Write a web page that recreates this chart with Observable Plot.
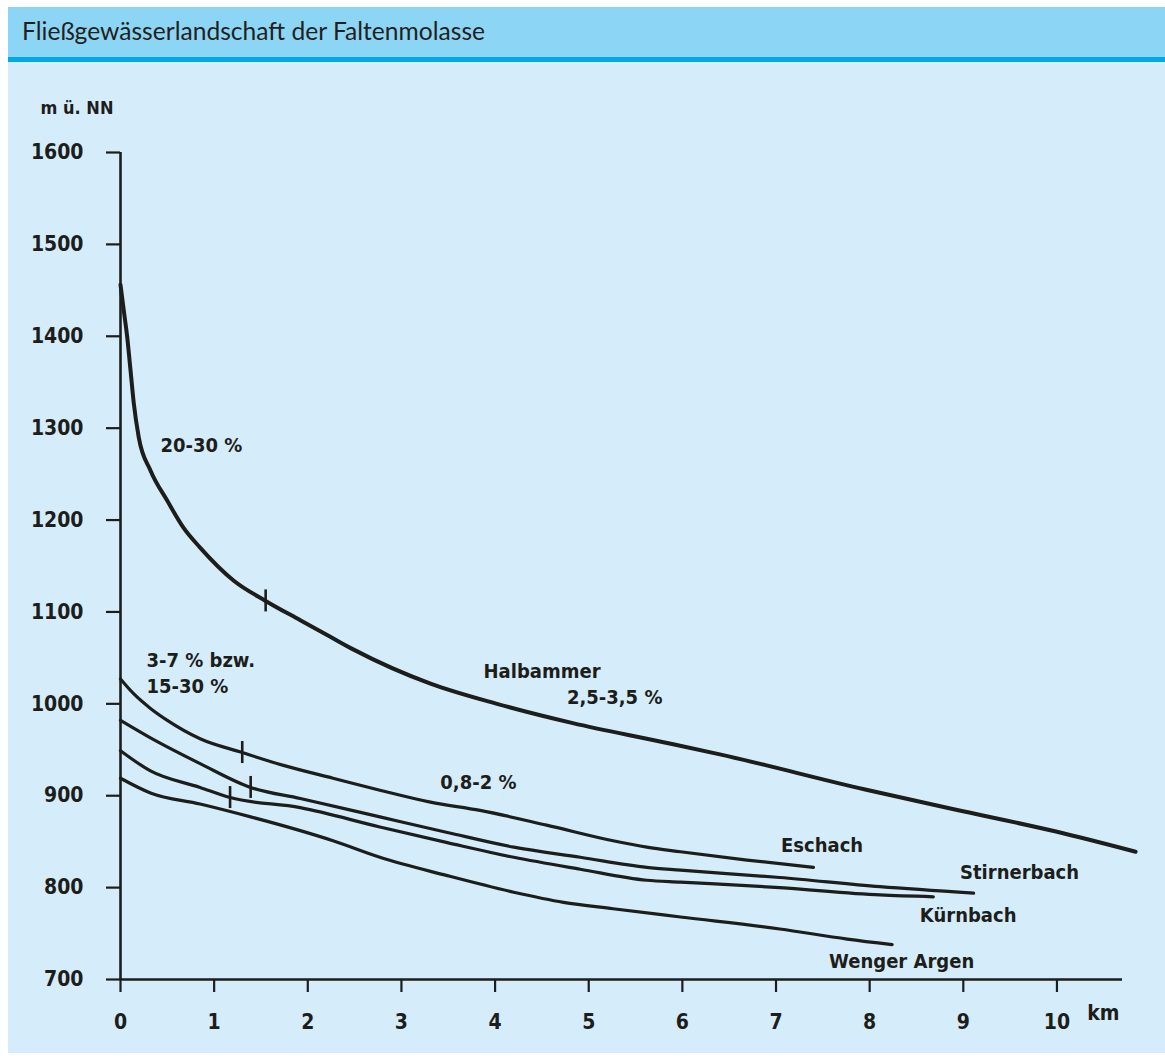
<!DOCTYPE html>
<html>
<head>
<meta charset="utf-8">
<script src="https://cdn.jsdelivr.net/npm/d3@7"></script>
<script src="https://cdn.jsdelivr.net/npm/@observablehq/plot@0.6"></script>
<style>
  html, body { margin: 0; padding: 0; background: #ffffff; }
  body { width: 1165px; height: 1056px; position: relative; overflow: hidden; }
  #header { position: absolute; left: 8px; top: 7px; width: 1157px; height: 50px; background: #8dd5f4; }
  #title { position: absolute; left: 22px; top: 19px; font-family: Lato, "Open Sans", sans-serif; font-size: 24.6px; line-height: 24px; color: #231f20; white-space: nowrap; }
  #stripe { position: absolute; left: 8px; top: 57px; width: 1157px; height: 5px; background: #00a9e6; }
  #panel { position: absolute; left: 8px; top: 62px; width: 1157px; height: 991px; background: #d5edfa; }
  #chart { position: absolute; left: 0; top: 62px; }
</style>
</head>
<body>
<div id="header"></div>
<div id="title">Fließgewässerlandschaft der Faltenmolasse</div>
<div id="stripe"></div>
<div id="panel"></div>
<div id="chart"></div>
<script>
// ---- data (km from source, elevation in m ü. NN) ----
const halbammerKm   = [0, 0.035, 0.072, 0.107, 0.142, 0.195, 0.32, 0.5, 0.67, 0.85, 1.21, 1.55, 1.92, 2.24, 2.49, 3.31, 4.02, 4.83, 5.76, 6.4, 7.94, 8.91, 9.99, 10.84];
const halbammerElev = [1456, 1428, 1399, 1363, 1327, 1290, 1254, 1221, 1192, 1170, 1134, 1112, 1091, 1073, 1059, 1022, 1000, 979, 959, 945, 907, 885, 861, 839];

const eschachKm   = [0, 0.14, 0.32, 0.5, 0.85, 1.3, 1.74, 2.27, 2.77, 3.31, 3.84, 4.55, 5.26, 5.62, 5.98, 6.69, 7.4];
const eschachElev = [1027, 1011, 995, 982, 962, 947, 933, 919, 906, 893, 884, 868, 851, 844, 839, 830, 822];

const stirnerbachKm   = [0, 0.32, 0.85, 1.39, 1.92, 2.77, 3.49, 4.2, 4.91, 5.62, 5.98, 7.04, 8.11, 9.11];
const stirnerbachElev = [982, 963, 935, 909, 897, 877, 860, 844, 833, 822, 819, 811, 801, 794];

const kuernbachKm   = [0, 0.32, 0.85, 1.17, 1.92, 2.77, 3.49, 4.2, 4.91, 5.62, 5.98, 7.04, 8.11, 8.68];
const kuernbachElev = [949, 927, 909, 898, 887, 866, 849, 833, 820, 808, 806, 800, 792, 790];

const wengerKm   = [0, 0.32, 0.85, 1.39, 1.92, 2.27, 2.77, 3.49, 4.2, 4.73, 5.26, 5.98, 7.04, 7.76, 8.24];
const wengerElev = [919, 903, 891, 877, 862, 851, 833, 813, 795, 784, 777, 768, 755, 744, 738];

// section boundary marks on the profiles
const markerKm   = [1.55, 1.30, 1.39, 1.17];
const markerElev = [1112, 947, 909, 898];

// annotations
const noteText = ["20-30 %", "3-7 % bzw.", "15-30 %", "Halbammer", "2,5-3,5 %", "0,8-2 %", "Eschach", "Stirnerbach", "Kürnbach", "Wenger Argen"];
const noteKm   = [0.427, 0.277, 0.277, 3.877, 4.767, 3.415, 7.054, 8.965, 8.536, 7.567];
const noteElev = [1281, 1047, 1019, 1035, 1007, 914, 845.5, 816.5, 769.5, 720];

const yTicks = [700, 800, 900, 1000, 1100, 1200, 1300, 1400, 1500, 1600];
const xTicks = [0, 1, 2, 3, 4, 5, 6, 7, 8, 9, 10];

// ---- build tables ----
function series(name, km, elev) { return km.map((k, i) => ({river: name, km: k, elev: elev[i]})); }
const upper = series("Halbammer", halbammerKm, halbammerElev);
const lower = [
  ...series("Eschach", eschachKm, eschachElev),
  ...series("Stirnerbach", stirnerbachKm, stirnerbachElev),
  ...series("Kürnbach", kuernbachKm, kuernbachElev),
  ...series("Wenger Argen", wengerKm, wengerElev)
];
const markers = markerKm.map((k, i) => ({km: k, elev: markerElev[i]}));
const notes = noteText.map((t, i) => ({text: t, km: noteKm[i], elev: noteElev[i]}));

const ink = "#1d1d1b";
const font = "'DejaVu Sans Condensed', 'DejaVu Sans', sans-serif";

const chart = Plot.plot({
  width: 1165,
  height: 990,
  marginLeft: 120,
  marginRight: 43,
  marginTop: 90,
  marginBottom: 73,
  style: {background: "transparent", fontFamily: font, fontWeight: "bold", fontSize: "20px", color: ink},
  x: {domain: [0, 10.7]},
  y: {domain: [700, 1600]},
  marks: [
    Plot.axisY({ticks: yTicks, tickSize: 14, tickPadding: 23, tickFormat: d => String(d), label: null, stroke: ink, strokeWidth: 2.2, fontSize: 21}),
    Plot.axisX({ticks: xTicks, tickSize: 13, tickPadding: 22, tickFormat: d => String(d), label: null, stroke: ink, strokeWidth: 2.2, fontSize: 21}),
    Plot.ruleX([0], {stroke: ink, strokeWidth: 2.6}),
    Plot.ruleY([700], {stroke: ink, strokeWidth: 2.6}),
    Plot.line(upper, {x: "km", y: "elev", curve: "monotone-x", stroke: ink, strokeWidth: 4}),
    Plot.line(lower, {x: "km", y: "elev", z: "river", curve: "monotone-x", stroke: ink, strokeWidth: 3.2}),
    Plot.ruleX(markers, {x: "km", y1: "elev", y2: "elev", insetTop: -11, insetBottom: -11, stroke: ink, strokeWidth: 2.6}),
    Plot.text(notes, {x: "km", y: "elev", text: "text", textAnchor: "start", fill: ink, fontSize: 20, fontWeight: "bold"}),
    Plot.text(["m ü. NN"], {text: d => d, frameAnchor: "top-left", textAnchor: "start", dx: -80, dy: -51, fill: ink, fontSize: 18, fontWeight: "bold"}),
    Plot.text(["km"], {text: d => d, frameAnchor: "bottom-right", textAnchor: "end", dx: -3, dy: 40, fill: ink, fontSize: 21, fontWeight: "bold"})
  ]
});
document.getElementById("chart").appendChild(chart);
</script>
</body>
</html>
